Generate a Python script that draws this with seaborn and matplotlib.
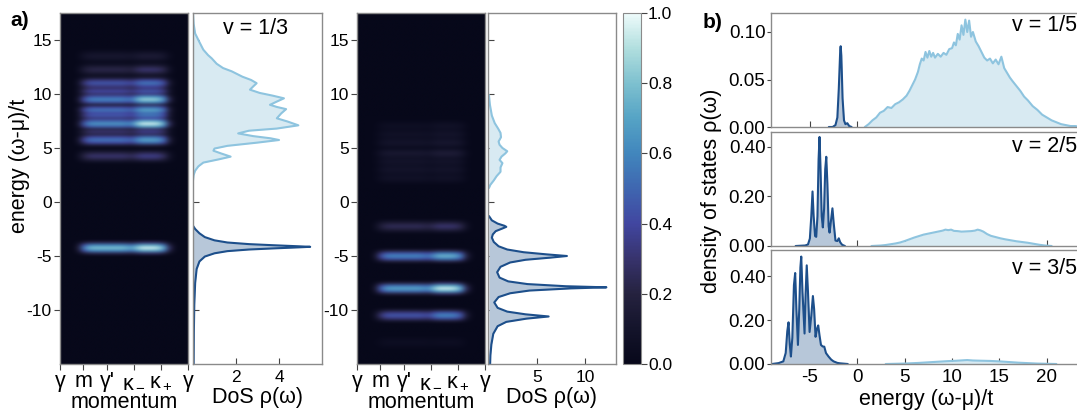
import numpy as np
import matplotlib
matplotlib.use("Agg")
import matplotlib.pyplot as plt
from matplotlib.colors import LinearSegmentedColormap
import seaborn as sns

sns.set_style("ticks")
plt.rcParams["font.family"] = ["Liberation Sans", "DejaVu Sans"]
plt.rcParams["mathtext.default"] = "regular"
plt.rcParams["axes.unicode_minus"] = False
for key in ["text.color", "axes.labelcolor", "xtick.color", "ytick.color"]:
    plt.rcParams[key] = "black"

# ---------------- data ----------------
# momentum path
k_ticks = [0.0, 0.18, 0.37, 0.58, 0.79, 1.0]
k_labels = ["γ", "m", "γ'", "κ$_-$", "κ$_+$", "γ"]

# weight of each momentum column (24 columns) for the two bright blocks
col_A = [0, 0, 0, 0.25, 0.7, 0.95, 1, 1, 1, 1, 1, 1, 0.95, 0.6, 0.1, 0, 0, 0, 0, 0, 0, 0, 0, 0]
col_B = [0, 0, 0, 0, 0, 0, 0, 0, 0, 0, 0, 0, 0, 0.25, 0.8, 1, 1, 1, 0.95, 0.75, 0.3, 0.05, 0, 0]

# spectral bands, nu = 1/3
bands1_E = [-4.2, 4.2, 5.8, 6.5, 7.2, 7.9, 8.5, 9.5, 10.3, 11.1, 12.3, 13.4]
bands1_A = [0.80, 0.30, 0.55, 0.30, 0.65, 0.45, 0.55, 0.60, 0.40, 0.45, 0.22, 0.12]
bands1_B = [0.95, 0.35, 0.70, 0.35, 0.95, 0.55, 0.70, 0.85, 0.45, 0.55, 0.30, 0.15]

# spectral bands, nu = 2/3
bands2_E = [-13.0, -10.5, -7.9, -5.0, -2.3, 2.3, 3.0, 3.8, 4.6, 5.4, 6.2, 7.0]
bands2_A = [0.05, 0.45, 0.70, 0.60, 0.25, 0.08, 0.10, 0.10, 0.13, 0.10, 0.08, 0.06]
bands2_B = [0.05, 0.60, 0.95, 0.75, 0.30, 0.08, 0.10, 0.10, 0.16, 0.12, 0.10, 0.08]

# DoS panel 1
dos1_hi_E = [17.5, 16.5, 15.6, 14.8, 14.1, 13.6, 13.3, 12.8, 12.4, 12.1, 11.6, 11.3, 11.0, 10.7,
             10.4, 10.1, 9.85, 9.6, 9.3, 9.0, 8.8, 8.6, 8.2, 7.75, 7.45, 7.1, 6.8, 6.6, 6.35,
             6.1, 5.9, 5.74, 5.5, 5.2, 4.95, 4.75, 4.5, 4.2, 3.95, 3.65, 3.3, 2.9, 2.5, 2.0]
dos1_hi = [0.0, 0.03, 0.1, 0.3, 0.48, 0.7, 0.87, 1.1, 1.4, 1.8, 2.3, 2.7, 2.96, 2.8,
           2.65, 3.1, 3.7, 4.23, 3.9, 3.58, 3.9, 4.33, 4.1, 3.9, 4.4, 4.9, 3.9, 2.6, 2.1,
           2.8, 3.6, 4.0, 3.0, 1.6, 1.0, 0.95, 1.3, 1.75, 1.2, 0.48, 0.25, 0.1, 0.03, 0.0]
dos1_lo_E = [-2.2, -2.5, -2.9, -3.25, -3.55, -3.75, -3.9, -4.0, -4.1, -4.15, -4.2, -4.3, -4.4,
             -4.55, -4.75, -5.05, -5.5, -6.2, -7.5, -9.5, -12.0, -15.0]
dos1_lo = [0.0, 0.1, 0.3, 0.55, 1.0, 1.6, 2.6, 3.7, 4.9, 5.45, 4.9, 3.7, 2.6,
           1.6, 1.0, 0.55, 0.3, 0.17, 0.1, 0.06, 0.04, 0.03]

# DoS panel 2
dos2_hi_E = [9.9, 9.0, 8.0, 7.3, 6.8, 6.4, 6.0, 5.6, 5.3, 5.0, 4.7, 4.5, 4.2, 3.9, 3.6,
             3.2, 2.8, 2.4, 2.0, 1.6, 1.3]
dos2_hi = [0.0, 0.1, 0.3, 0.6, 0.95, 1.2, 1.25, 1.0, 1.1, 1.4, 1.9, 1.7, 1.3, 1.1, 1.4,
           1.2, 1.2, 0.8, 0.5, 0.15, 0.0]
dos2_lo_E = [-1.3, -1.7, -2.0, -2.2, -2.3, -2.45, -2.7, -3.0, -3.3, -3.7, -4.1, -4.4, -4.65,
             -4.85, -5.0, -5.15, -5.35, -5.6, -6.0, -6.5, -7.0, -7.35, -7.6, -7.8, -7.9, -8.0,
             -8.2, -8.45, -8.8, -9.3, -9.8, -10.15, -10.4, -10.6, -10.8, -11.1, -11.5, -12.2,
             -13.2, -14.2, -15.0]
dos2_lo = [0.0, 0.3, 0.9, 1.6, 1.8, 1.4, 0.7, 0.4, 0.3, 0.5, 1.0, 1.9, 3.6,
           6.0, 8.1, 6.4, 3.8, 2.2, 1.2, 0.85, 1.1, 2.0, 4.0, 8.0, 12.2, 8.5,
           4.2, 2.2, 1.0, 0.55, 0.9, 1.9, 3.8, 6.2, 3.9, 1.8, 0.9, 0.45,
           0.25, 0.15, 0.12]

# panel b: nu = 1/5
b1_hi_E = [0.8, 1.2, 1.6, 2.0, 2.4, 2.8, 3.2, 3.6, 4.0, 4.4, 4.8, 5.2, 5.5, 5.8, 6.1, 6.4, 6.6,
           6.8, 7.0, 7.2, 7.4, 7.6, 7.8, 8.0, 8.2, 8.5, 8.8, 9.1, 9.4, 9.7, 10.0, 10.2, 10.4,
           10.6, 10.8, 11.0, 11.2, 11.4, 11.6, 11.8, 12.0, 12.2, 12.5, 12.8, 13.1, 13.4, 13.7,
           14.0, 14.3, 14.6, 14.9, 15.2, 15.5, 15.8, 16.1, 16.4, 16.8, 17.2, 17.6, 18.0, 18.5,
           19.0, 19.5, 20.0, 20.5, 21.0, 21.5, 22.0, 22.5, 23.0, 23.6]
b1_hi = [0.000, 0.003, 0.007, 0.010, 0.015, 0.017, 0.021, 0.020, 0.024, 0.026, 0.029, 0.033,
         0.038, 0.044, 0.050, 0.058, 0.066, 0.072, 0.070, 0.079, 0.073, 0.080, 0.074, 0.078,
         0.073, 0.077, 0.074, 0.078, 0.076, 0.082, 0.083, 0.089, 0.086, 0.098, 0.092, 0.107,
         0.097, 0.113, 0.100, 0.112, 0.095, 0.100, 0.090, 0.085, 0.079, 0.073, 0.070, 0.072,
         0.067, 0.071, 0.066, 0.074, 0.062, 0.057, 0.052, 0.048, 0.043, 0.038, 0.032, 0.028,
         0.022, 0.018, 0.013, 0.010, 0.007, 0.005, 0.003, 0.002, 0.001, 0.001, 0.000]
b1_lo_E = [-3.0, -2.6, -2.3, -2.1, -1.95, -1.8, -1.75, -1.68, -1.55, -1.4, -1.25, -1.05, -0.85, -0.6]
b1_lo = [0.0, 0.0, 0.002, 0.01, 0.04, 0.08, 0.085, 0.075, 0.03, 0.007, 0.003, 0.004, 0.001, 0.0]

# panel b: nu = 2/5
b2_hi_E = [1.5, 2.0, 2.5, 3.0, 3.5, 4.0, 4.5, 5.0, 5.5, 6.0, 6.5, 7.0, 7.5, 8.0, 8.5, 9.0, 9.3,
           9.6, 9.9, 10.2, 10.6, 11.0, 11.5, 12.0, 12.4, 12.7, 13.0, 13.3, 13.7, 14.1, 14.6,
           15.1, 15.6, 16.2, 16.8, 17.4, 18.0, 18.6, 19.2, 19.8, 20.5]
b2_hi = [0.0, 0.001, 0.002, 0.004, 0.007, 0.010, 0.014, 0.020, 0.027, 0.034, 0.040, 0.046,
         0.050, 0.054, 0.058, 0.062, 0.066, 0.064, 0.066, 0.061, 0.060, 0.058, 0.059, 0.060,
         0.062, 0.066, 0.063, 0.058, 0.048, 0.041, 0.036, 0.031, 0.027, 0.023, 0.019, 0.016,
         0.013, 0.009, 0.005, 0.002, 0.0]
b2_lo_E = [-6.5, -5.5, -5.2, -5.0, -4.85, -4.72, -4.6, -4.45, -4.33, -4.2, -4.08, -3.98, -3.88,
           -3.75, -3.63, -3.5, -3.38, -3.27, -3.15, -3.02, -2.92, -2.78, -2.62, -2.48, -2.3,
           -2.1, -1.95, -1.8, -1.6, -1.3]
b2_lo = [0.0, 0.002, 0.006, 0.03, 0.12, 0.22, 0.12, 0.04, 0.037, 0.12, 0.35, 0.44, 0.32,
         0.12, 0.075, 0.15, 0.31, 0.36, 0.25, 0.08, 0.054, 0.10, 0.152, 0.09, 0.022,
         0.02, 0.031, 0.015, 0.005, 0.0]

# panel b: nu = 3/5
b3_hi_E = [3.0, 5.0, 6.5, 8.0, 9.5, 10.5, 11.2, 11.6, 12.2, 13.0, 14.0, 15.0, 16.0, 17.0,
           18.0, 19.0, 20.0, 21.0]
b3_hi = [0.0, 0.002, 0.005, 0.009, 0.013, 0.015, 0.017, 0.018, 0.016, 0.015, 0.014, 0.012,
         0.009, 0.006, 0.004, 0.002, 0.001, 0.0]
b3_lo_E = [-9.0, -8.3, -7.8, -7.55, -7.38, -7.25, -7.12, -7.0, -6.85, -6.68, -6.55, -6.42,
           -6.26, -6.12, -6.0, -5.91, -5.78, -5.56, -5.45, -5.33, -5.2, -5.03, -4.85, -4.68,
           -4.55, -4.4, -4.25, -4.12, -3.98, -3.83, -3.65, -3.48, -3.3, -3.03, -2.75, -2.5,
           -2.1, -1.8, -1.0]
b3_lo = [0.0, 0.004, 0.012, 0.05, 0.15, 0.19, 0.09, 0.034, 0.12, 0.36, 0.415, 0.25,
         0.087, 0.25, 0.44, 0.49, 0.33, 0.139, 0.32, 0.45, 0.33, 0.146, 0.22, 0.31,
         0.25, 0.124, 0.16, 0.176, 0.13, 0.087, 0.08, 0.079, 0.05, 0.034, 0.02, 0.012,
         0.005, 0.003, 0.0]

# ---------------- style ----------------
W, H = 1077, 416
light_line, light_fill = "#8ec4df", "#d8eaf2"
dark_line, dark_fill = "#1d4f8b", "#b7c7d9"
spine_c = "#8a8a8a"
cmap = LinearSegmentedColormap.from_list("spec", [
    (0.0, "#07081a"), (0.1, "#14142b"), (0.2, "#25223f"), (0.3, "#37336d"),
    (0.4, "#4146a0"), (0.5, "#3f66b0"), (0.6, "#4186bd"), (0.7, "#55a3c5"),
    (0.8, "#7dc0cf"), (0.9, "#b0dede"), (1.0, "#eefbfb")])

E_grid = np.arange(-15.0, 17.5 + 1e-6, 0.25)
band_kernel = [0.3, 0.75, 1.0, 0.75, 0.3]


def spectral_image(E_list, wA, wB):
    img = np.zeros((len(E_grid), len(col_A)))
    for e, a, b in zip(E_list, wA, wB):
        row = int(np.argmin(np.abs(E_grid - e)))
        line = a * np.array(col_A) + b * np.array(col_B)
        for off, k in zip(range(-2, 3), band_kernel):
            r = row + off
            if 0 <= r < len(E_grid):
                img[r] = np.maximum(img[r], k * line)
    return img


def box(px_left, px_top, px_w, px_h):
    return [px_left / W, 1 - (px_top + px_h) / H, px_w / W, px_h / H]


fig = plt.figure(figsize=(W / 100, H / 100), dpi=100)
tick_fs = 12.5
label_fs = 15.5


def style_spines(ax):
    for s in ax.spines.values():
        s.set_visible(True)
        s.set_color(spine_c)
        s.set_linewidth(1.0)


def heatmap_panel(px_left, img):
    ax = fig.add_axes(box(px_left, 13, 128, 351))
    im = ax.imshow(img, origin="lower", aspect="auto", cmap=cmap, vmin=0, vmax=1,
                   extent=(0, 1, E_grid[0] - 0.125, E_grid[-1] + 0.125), interpolation="bicubic")
    ax.set_ylim(-15, 17.5)
    ax.set_xlim(0, 1)
    ax.set_xticks(k_ticks)
    ax.set_xticklabels(k_labels, fontsize=15.5)
    ax.set_yticks([-10, -5, 0, 5, 10, 15])
    ax.tick_params(axis="y", direction="out", length=4, labelsize=tick_fs, pad=2, color="#444")
    ax.tick_params(axis="x", direction="out", length=4, pad=1, color="#444")
    ax.set_xlabel("momentum", fontsize=label_fs, labelpad=0)
    style_spines(ax)
    return ax, im


def dos_panel(px_left, px_w, hi_E, hi, lo_E, lo, xlim, xticks):
    ax = fig.add_axes(box(px_left, 13, px_w, 351))
    ax.fill_betweenx(hi_E, 0, hi, color=light_fill, lw=0)
    ax.fill_betweenx(lo_E, 0, lo, color=dark_fill, lw=0)
    sns.lineplot(x=hi, y=hi_E, sort=False, estimator=None, color=light_line, lw=1.5, ax=ax)
    sns.lineplot(x=lo, y=lo_E, sort=False, estimator=None, color=dark_line, lw=1.5, ax=ax)
    ax.set_ylim(-15, 17.5)
    ax.set_xlim(*xlim)
    ax.set_xticks(xticks)
    ax.set_yticks([-10, -5, 0, 5, 10, 15])
    ax.tick_params(axis="y", direction="in", length=4, labelleft=False, color="#444")
    ax.tick_params(axis="x", direction="in", length=4, labelsize=tick_fs, pad=4, color="#444")
    ax.set_xlabel("DoS ρ(ω)", fontsize=label_fs, labelpad=2)
    ax.set_ylabel("")
    style_spines(ax)
    return ax


# ---------------- panel a ----------------
ax_h1, _ = heatmap_panel(60, spectral_image(bands1_E, bands1_A, bands1_B))
ax_d1 = dos_panel(193, 129, dos1_hi_E, dos1_hi, dos1_lo_E, dos1_lo, (0, 6), [2, 4])
ax_d1.text(0.23, 0.955, "v = 1/3", transform=ax_d1.transAxes, fontsize=15.5, ha="left", va="center")

ax_h2, im2 = heatmap_panel(357, spectral_image(bands2_E, bands2_A, bands2_B))
ax_d2 = dos_panel(488, 128, dos2_hi_E, dos2_hi, dos2_lo_E, dos2_lo, (-0.1, 13.2), [5, 10])

cax = fig.add_axes(box(623, 13, 18, 351))
cb = fig.colorbar(im2, cax=cax, ticks=[0, 0.2, 0.4, 0.6, 0.8, 1.0])
cb.ax.set_yticklabels(["0.0", "0.2", "0.4", "0.6", "0.8", "1.0"])
cb.ax.tick_params(labelsize=tick_fs, length=4, color="#444", pad=1)
cb.outline.set_edgecolor(spine_c)

fig.text(20 / W, 1 - 166 / H, "energy (ω-μ)/t", rotation=90, fontsize=label_fs, ha="center", va="center")
fig.text(10 / W, 1 - 20 / H, "a)", fontsize=15, fontweight="bold", ha="left", va="center")

# ---------------- panel b ----------------
b_sets = [
    (13, b1_hi_E, b1_hi, b1_lo_E, b1_lo, (0, 0.12), [0.0, 0.05, 0.10], "v = 1/5", 0.886),
    (132, b2_hi_E, b2_hi, b2_lo_E, b2_lo, (0, 0.46), [0.0, 0.2, 0.4], "v = 2/5", 0.876),
    (250, b3_hi_E, b3_hi, b3_lo_E, b3_lo, (0, 0.52), [0.0, 0.2, 0.4], "v = 3/5", 0.842),
]
for i, (top, hE, hv, lE, lv, ylim, yt, lab, ty) in enumerate(b_sets):
    ax = fig.add_axes(box(771, top, 310, 114))
    ax.fill_between(hE, 0, hv, color=light_fill, lw=0)
    ax.fill_between(lE, 0, lv, color=dark_fill, lw=0)
    sns.lineplot(x=hE, y=hv, sort=False, estimator=None, color=light_line, lw=1.5, ax=ax)
    sns.lineplot(x=lE, y=lv, sort=False, estimator=None, color=dark_line, lw=1.5, ax=ax)
    ax.set_xlim(-9.1, 23.6)
    ax.set_ylim(*ylim)
    ax.set_xticks([-5, 0, 5, 10, 15, 20])
    ax.set_yticks(yt)
    ax.set_yticklabels([f"{v:.2f}" for v in yt])
    ax.tick_params(axis="x", direction="in", length=4, labelsize=13.5, color="#444",
                   labelbottom=(i == 2))
    ax.tick_params(axis="y", direction="out", length=3, labelsize=13.5, pad=1, color="#444")
    ax.set_ylabel("")
    ax.text(0.777, ty, lab, transform=ax.transAxes, fontsize=15.5, ha="left", va="center")
    style_spines(ax)
    if i == 2:
        ax.set_xlabel("energy (ω-μ)/t", fontsize=label_fs, labelpad=2)

fig.text(712 / W, 1 - 191 / H, "density of states ρ(ω)", rotation=90, fontsize=label_fs,
         ha="center", va="center")
fig.text(713 / W, 1 - 22 / H, "b)", fontsize=15, fontweight="bold", ha="center", va="center")

fig.savefig("out.png", dpi=100)
